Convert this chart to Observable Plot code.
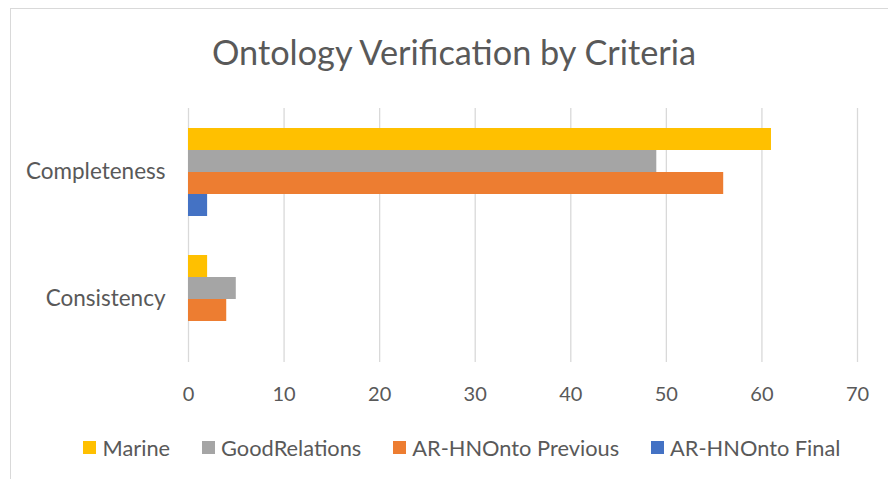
<!DOCTYPE html>
<html>
<head>
<meta charset="utf-8">
<script src="https://cdn.jsdelivr.net/npm/d3@7"></script>
<script src="https://cdn.jsdelivr.net/npm/@observablehq/plot@0.6"></script>
<style>
  html, body { margin: 0; padding: 0; background: #fff; overflow: hidden; }
  #page { position: relative; width: 888px; height: 479px; font-family: Lato, "Open Sans", sans-serif; color: #595959; }
  #frame { position: absolute; left: 10px; top: 8px; width: 900px; height: 500px; border: 1px solid #d9d9d9; box-sizing: border-box; }
  #title { position: absolute; left: 10px; width: 888px; top: 28px; text-align: center; font-size: 34.3px; line-height: 48px; color: #595959; }
  #chart { position: absolute; left: 0; top: 0; }
  #legend { position: absolute; left: 18px; width: 888px; top: 431px; display: flex; justify-content: center; }
  #legend .lgd-swatch { margin-right: 32px; }
  #legend .lgd-swatch:last-child { margin-right: 0; }
  #legend .lgd-swatch > svg { margin-right: 6px; }
</style>
</head>
<body>
<div id="page">
  <div id="frame"></div>
  <div id="title">Ontology Verification by Criteria</div>
  <div id="chart"></div>
  <div id="legend"></div>
</div>
<script>
// Verification criteria (one group of bars each)
const categories = ["Completeness", "Consistency"];
// Ontologies compared
const series = ["Marine", "GoodRelations", "AR-HNOnto Previous", "AR-HNOnto Final"];
const colors = ["#FFC000", "#A5A5A5", "#ED7D31", "#4472C4"];
// Issue counts per criterion, in the order of `categories`
const marine = [61, 2];
const goodRelations = [49, 5];
const arHNOntoPrevious = [56, 4];
const arHNOntoFinal = [2, 0];
const xTicks = [0, 10, 20, 30, 40, 50, 60, 70];

const valuesBySeries = [marine, goodRelations, arHNOntoPrevious, arHNOntoFinal];
const data = categories.flatMap((category, i) =>
  series.map((name, j) => ({category, series: name, value: valuesBySeries[j][i]}))
);

const textColor = "#595959";

const chart = Plot.plot({
  width: 888,
  height: 420,
  marginLeft: 188,
  marginRight: 31,
  marginTop: 107,
  marginBottom: 58,
  style: {fontFamily: "Lato, 'Open Sans', sans-serif", color: textColor, background: "transparent"},
  x: {domain: [0, 70], ticks: xTicks, label: null},
  y: {domain: series, paddingInner: 0, paddingOuter: 0.87, axis: null},
  fy: {domain: categories, padding: 0, label: null},
  color: {domain: series, range: colors},
  marks: [
    Plot.gridX(xTicks, {stroke: "#d9d9d9", strokeOpacity: 1, strokeWidth: 1.3}),
    Plot.barX(data, {x: "value", y: "series", fy: "category", fill: "series"}),
    Plot.axisX({ticks: xTicks, tickSize: 0, tickPadding: 24, fontSize: 20, fill: textColor, label: null}),
    Plot.axisFy({anchor: "left", tickSize: 0, tickPadding: 23, fontSize: 22.5, fill: textColor, label: null})
  ]
});
document.getElementById("chart").appendChild(chart);

const legend = Plot.legend({
  color: {domain: series, range: colors},
  swatchSize: 13,
  className: "lgd",
  style: {fontFamily: "Lato, 'Open Sans', sans-serif", fontSize: "21.8px", color: textColor, margin: 0}
});
document.getElementById("legend").appendChild(legend);
</script>
</body>
</html>
